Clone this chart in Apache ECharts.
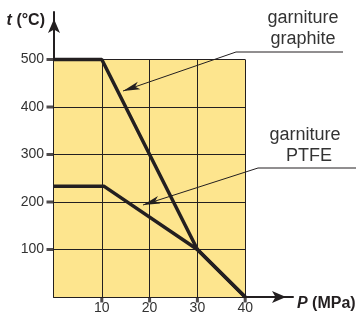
<!DOCTYPE html>
<html>
<head>
<meta charset="utf-8">
<script src="https://cdn.jsdelivr.net/npm/echarts@6/dist/echarts.min.js"></script>
<style>
  html, body { margin: 0; padding: 0; background: #fff; }
  #chart { width: 360px; height: 315px; }
</style>
</head>
<body>
<div id="chart"></div>
<script>
// values
var xTicks = [10, 20, 30, 40];
var yTicks = [100, 200, 300, 400, 500];
var graphite = [[0, 500], [10, 500], [30, 100], [40, 0]];
var ptfe = [[0, 233], [10.5, 233], [30, 100], [40, 0]];
var zone = [[0, 0], [40, 500]];

var ink = '#231f20';
var text = '#333333';
var yellow = '#fde58e';
var font = '"Liberation Sans", Arial, sans-serif';

var chart = echarts.init(document.getElementById('chart'), null, { renderer: 'canvas' });

var gridLines = [];
xTicks.forEach(function(v) { gridLines.push([{ coord: [v, 0] }, { coord: [v, 500] }]); });
yTicks.forEach(function(v) { gridLines.push([{ coord: [0, v] }, { coord: [40, v] }]); });

var tickX = xTicks.map(function(v) { return [v, 0]; });
var tickY = yTicks.map(function(v) { return [0, v]; });

function arrowHead(tip, from, len, half) {
  var dx = from[0] - tip[0], dy = from[1] - tip[1];
  var d = Math.sqrt(dx * dx + dy * dy);
  var ux = dx / d, uy = dy / d;
  var bx = tip[0] + ux * len, by = tip[1] + uy * len;
  return [tip, [bx - uy * half, by + ux * half], [tip[0] + ux * len * 0.75, tip[1] + uy * len * 0.75], [bx + uy * half, by - ux * half]];
}

// leader lines of the two notes (pixel positions)
var leaders = [
  { from: [236, 52], to: [343, 52], tip: [123, 91] },
  { from: [258, 168], to: [356, 168], tip: [143, 205] }
];
var graphics = [];
leaders.forEach(function(l) {
  graphics.push({ type: 'polyline', z: 100, shape: { points: [l.to, l.from, l.tip] }, style: { stroke: ink, lineWidth: 1, fill: null } });
  graphics.push({ type: 'polygon', z: 101, shape: { points: arrowHead(l.tip, l.from, 17, 4) }, style: { fill: ink } });
});
var notes = [
  { x: 303, y: 18.5, t: 'garniture' },
  { x: 303, y: 39.5, t: 'graphite' },
  { x: 305, y: 135.5, t: 'garniture' },
  { x: 309, y: 156.5, t: 'PTFE' }
];
notes.forEach(function(n) {
  graphics.push({ type: 'text', z: 100, x: n.x, y: n.y, style: { text: n.t, fill: text, font: '18px ' + font, textAlign: 'center', textVerticalAlign: 'middle' } });
});
graphics.push({ type: 'text', z: 100, x: 45, y: 20.5, style: {
  text: '{i|t} (°C)', fill: ink, font: 'bold 16px ' + font, textAlign: 'right', textVerticalAlign: 'middle',
  rich: { i: { fontStyle: 'italic', fontWeight: 'bold', fontSize: 16, fontFamily: font, fill: ink } }
} });
graphics.push({ type: 'text', z: 100, x: 297, y: 304, style: {
  text: '{i|P} (MPa)', fill: ink, font: 'bold 16px ' + font, textAlign: 'left', textVerticalAlign: 'middle',
  rich: { i: { fontStyle: 'italic', fontWeight: 'bold', fontSize: 16, fontFamily: font, fill: ink } }
} });

function hideEnds(v) { return (v === 0 || v === 50 || v === 600) ? '' : String(v); }

chart.setOption({
  animation: false,
  grid: { left: 54, right: 67, top: 12, bottom: 18 },
  xAxis: {
    type: 'value', min: 0, max: 50, interval: 10,
    axisLine: { lineStyle: { color: ink, width: 2 }, symbol: ['none', 'arrow'], symbolSize: [9, 14], symbolOffset: [0, -7] },
    axisTick: { show: false },
    splitLine: { show: false },
    axisLabel: { color: text, fontSize: 14, fontFamily: font, margin: 4, formatter: hideEnds }
  },
  yAxis: {
    type: 'value', min: 0, max: 600, interval: 100,
    axisLine: { lineStyle: { color: ink, width: 2 }, symbol: ['none', 'arrow'], symbolSize: [9, 14], symbolOffset: [0, -7] },
    axisTick: { show: false },
    splitLine: { show: false },
    axisLabel: { color: text, fontSize: 14, fontFamily: font, margin: 10, formatter: hideEnds }
  },
  graphic: { elements: graphics },
  series: [
    {
      type: 'line', data: [], z: 1, silent: true,
      markArea: { silent: true, itemStyle: { color: yellow, opacity: 1 }, data: [[{ coord: zone[0] }, { coord: zone[1] }]] }
    },
    {
      type: 'line', data: [], z: 2, silent: true,
      markLine: { silent: true, symbol: ['none', 'none'], label: { show: false },
        lineStyle: { color: ink, width: 1, type: 'solid' }, data: gridLines }
    },
    {
      type: 'scatter', data: tickX, z: 4, clip: false, silent: true,
      symbol: 'rect', symbolSize: [3, 5], symbolOffset: [0, 3], itemStyle: { color: ink }
    },
    {
      type: 'scatter', data: tickY, z: 4, clip: false, silent: true,
      symbol: 'rect', symbolSize: [7, 3], symbolOffset: [-4, 0], itemStyle: { color: ink }
    },
    {
      name: 'garniture graphite', type: 'line', data: graphite, z: 3, showSymbol: false, silent: true,
      lineStyle: { color: ink, width: 3.5 }
    },
    {
      name: 'garniture PTFE', type: 'line', data: ptfe, z: 3, showSymbol: false, silent: true,
      lineStyle: { color: ink, width: 3.5 }
    }
  ]
});
window.addEventListener('resize', function() { chart.resize(); });
</script>
</body>
</html>
